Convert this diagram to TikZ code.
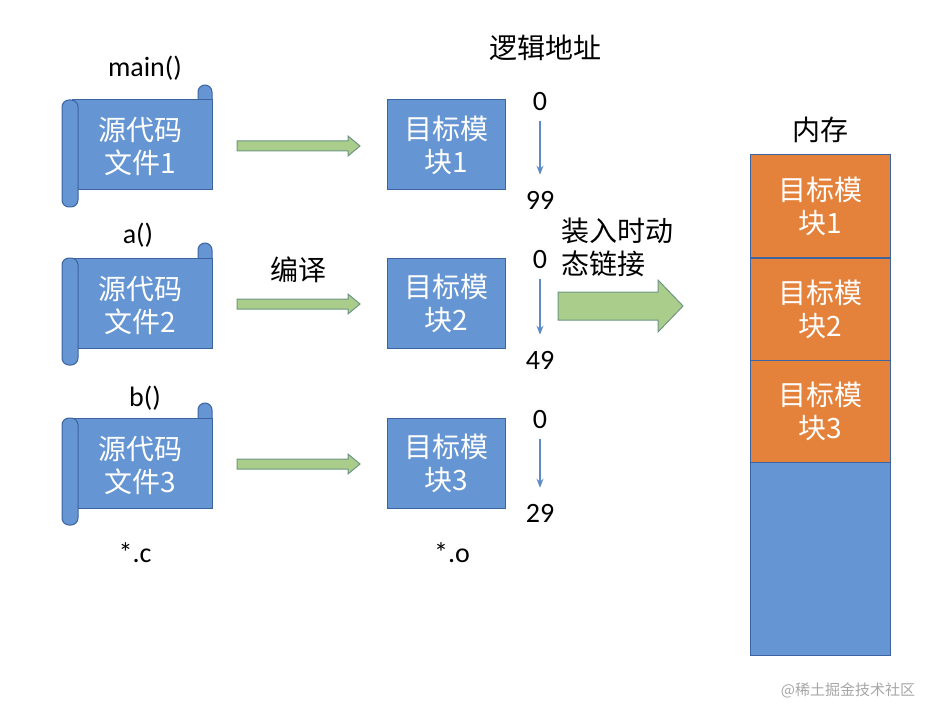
\documentclass[tikz,border=0pt]{standalone}
\usepackage{fontspec}
\usetikzlibrary{arrows.meta}
\setmainfont{Carlito}
\newfontfamily\cjk{Noto Sans CJK SC}
\begin{document}
\begin{tikzpicture}[x=1pt,y=-1pt,
  txt/.style={font=\cjk\fontsize{28}{33}\selectfont,align=center,inner sep=0},
  wtxt/.style={txt,text=white},
  lat/.style={font=\fontsize{28}{33}\selectfont,inner sep=0},
  sc/.style={fill=scb,draw=scd,line width=1pt},
  garrow/.style={fill=grn,draw=grd,line width=1pt},
  thin/.style={-{Stealth[length=9pt,width=7pt]},draw=blu,line width=1.2pt}]
\definecolor{scb}{RGB}{101,149,210}
\definecolor{scd}{RGB}{60,100,160}
\definecolor{grn}{RGB}{170,205,140}
\definecolor{grd}{RGB}{110,150,130}
\definecolor{org}{RGB}{228,130,60}
\definecolor{blu}{RGB}{95,140,200}
\useasboundingbox (0,0) rectangle (950,722);
\foreach \i/\yo in {1/0,2/158,3/318}{
  \begin{scope}[yshift=-\yo pt]
  \draw[sc,rounded corners=7] (198,85) rectangle (212,110);
  \draw[sc] (72,100) rectangle (212,190);
  \draw[sc,rounded corners=7] (62,100) rectangle (78,207);
  \node[wtxt] (s\i) at (140,147) {源代码\\文件\i};
  \draw[garrow] (237,141) -- (348,141) -- (348,136) -- (360,146) -- (348,156) -- (348,151) -- (237,151) -- cycle;
  \node[draw=scd,fill=scb,line width=1pt,minimum width=118pt,minimum height=90pt] (m\i) at (446,145) {};
  \node[wtxt] at (m\i) {目标模\\块\i};
  \node[lat] (z\i) at (540,102) {0};
  \end{scope}
}
\node[lat] (n1) at (540,200) {99};
\node[lat] (n2) at (540,360) {49};
\node[lat] (n3) at (540,513) {29};
\foreach \i in {1,2,3}{\draw[thin] ([yshift=-10pt]z\i.south) -- ([yshift=16pt]n\i.north);}
\node[lat] at (145,68) {main()};
\node[lat] at (138,235) {a()};
\node[lat] at (145,398) {b()};
\node[txt] at (298,270) {编译};
\node[txt] at (545,48) {逻辑地址};
\node[lat] at (135,553) {*.c};
\node[lat] at (452,553) {*.o};
\node[txt,align=left,anchor=north west] at (561,218) {装入时动\\态链接};
\draw[garrow] (558,292) -- (658,292) -- (658,280) -- (683,306) -- (658,332) -- (658,320) -- (558,320) -- cycle;
\node[txt] at (820,130) {内存};
\draw[fill=scb,draw=scd,line width=1pt] (750,460) rectangle (890,655);
\foreach \i/\y in {1/155,2/258,3/360}{
  \draw[fill=org,draw=scd,line width=1pt] (750,\y) rectangle (890,\y+102);
  \node[wtxt] at (820,\y+51) {目标模\\块\i};
}
\node[font=\cjk\fontsize{15}{18}\selectfont,text=gray!70,inner sep=0] at (848,690) {@稀土掘金技术社区};
\end{tikzpicture}
\end{document}
